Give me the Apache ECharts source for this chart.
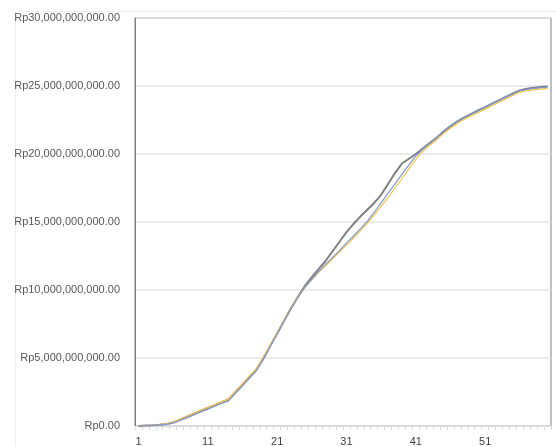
<!DOCTYPE html>
<html>
<head>
<meta charset="utf-8">
<script src="https://cdn.jsdelivr.net/npm/echarts@6/dist/echarts.min.js"></script>
<style>
  html, body { margin: 0; padding: 0; background: #ffffff; }
  #chart { width: 556px; height: 447px; }
</style>
</head>
<body>
<div id="chart"></div>
<script>
// Cumulative value per period, in billions of rupiah
const periods = Array.from({ length: 60 }, (_, i) => String(i + 1));

const seriesGray = [
  0.0, 0.03, 0.06, 0.1, 0.15, 0.25, 0.47, 0.69, 0.91, 1.12,
  1.33, 1.54, 1.75, 1.97, 2.5, 3.05, 3.6, 4.15, 4.95, 5.9,
  6.8, 7.75, 8.65, 9.5, 10.3, 10.95, 11.55, 12.15, 12.85, 13.55,
  14.25, 14.85, 15.4, 15.9, 16.4, 17.0, 17.8, 18.6, 19.3, 19.65,
  20.0, 20.4, 20.8, 21.2, 21.65, 22.05, 22.4, 22.7, 22.95, 23.2,
  23.45, 23.7, 23.95, 24.2, 24.45, 24.68, 24.8, 24.87, 24.92, 24.97
];

const seriesBlue = [
  0.0, 0.02, 0.04, 0.08, 0.12, 0.2, 0.4, 0.6, 0.82, 1.03,
  1.24, 1.45, 1.65, 1.85, 2.4, 2.95, 3.5, 4.05, 4.9, 5.85,
  6.75, 7.7, 8.6, 9.45, 10.2, 10.8, 11.35, 11.9, 12.4, 12.9,
  13.45, 13.95, 14.5, 15.05, 15.7, 16.4, 17.1, 17.8, 18.5, 19.2,
  19.85, 20.35, 20.8, 21.2, 21.65, 22.05, 22.4, 22.7, 22.95, 23.2,
  23.45, 23.7, 23.95, 24.2, 24.45, 24.65, 24.75, 24.82, 24.87, 24.92
];

const seriesYellow = [
  0.0, 0.03, 0.06, 0.1, 0.16, 0.26, 0.48, 0.7, 0.93, 1.14,
  1.35, 1.56, 1.77, 1.98, 2.55, 3.1, 3.65, 4.2, 5.05, 5.95,
  6.85, 7.8, 8.65, 9.5, 10.2, 10.75, 11.3, 11.8, 12.3, 12.8,
  13.3, 13.8, 14.35, 14.9, 15.5, 16.15, 16.8, 17.5, 18.2, 18.9,
  19.6, 20.2, 20.65, 21.05, 21.5, 21.9, 22.25, 22.55, 22.8, 23.05,
  23.3, 23.55, 23.8, 24.05, 24.3, 24.55, 24.65, 24.72, 24.77, 24.82
];

const BILLION = 1e9;
const toRupiah = arr => arr.map(v => v * BILLION);

function formatRp(value) {
  const whole = Math.round(value).toString().replace(/\B(?=(\d{3})+(?!\d))/g, ',');
  return 'Rp' + whole + '.00';
}

const chart = echarts.init(document.getElementById('chart'), null, { renderer: 'canvas' });

const lineSeries = (name, data, color, width) => ({
  name: name,
  type: 'line',
  data: toRupiah(data),
  symbol: 'none',
  smooth: false,
  lineStyle: { color: color, width: width },
  itemStyle: { color: color },
  emphasis: { disabled: true },
  animation: false
});

chart.setOption({
  animation: false,
  backgroundColor: '#ffffff',
  graphic: [{
    type: 'rect',
    shape: { x: 15.5, y: 11.5, width: 560, height: 460 },
    style: { fill: 'none', stroke: '#efefef', lineWidth: 1 },
    silent: true,
    z: -10
  }],
  grid: {
    left: 135,
    right: 5,
    top: 18,
    bottom: 21,
    show: true,
    borderColor: '#7f7f7f',
    borderWidth: 1,
    backgroundColor: 'transparent'
  },
  xAxis: {
    type: 'category',
    data: periods,
    boundaryGap: true,
    axisLine: { show: true, lineStyle: { color: '#d9d9d9', width: 1 } },
    axisTick: { show: true, interval: 0, length: 4, lineStyle: { color: '#d9d9d9' } },
    axisLabel: {
      interval: 9,
      margin: 10,
      color: '#404040',
      fontFamily: 'Liberation Sans, Arial, sans-serif',
      fontSize: 11
    },
    splitLine: { show: false }
  },
  yAxis: {
    type: 'value',
    min: 0,
    max: 30 * BILLION,
    interval: 5 * BILLION,
    axisLine: { show: true, lineStyle: { color: '#7f7f7f', width: 1 } },
    axisTick: { show: false },
    axisLabel: {
      margin: 15,
      color: '#595959',
      fontFamily: 'Liberation Sans, Arial, sans-serif',
      fontSize: 11,
      formatter: formatRp
    },
    splitLine: { show: true, lineStyle: { color: '#e4e4e4', width: 1.5 } }
  },
  series: [
    lineSeries('Seri 1', seriesGray, '#7f7f7f', 2),
    lineSeries('Seri 3', seriesYellow, '#f5c542', 1.2),
    lineSeries('Seri 2', seriesBlue, '#7e97d4', 1.2)
  ]
});
</script>
</body>
</html>
